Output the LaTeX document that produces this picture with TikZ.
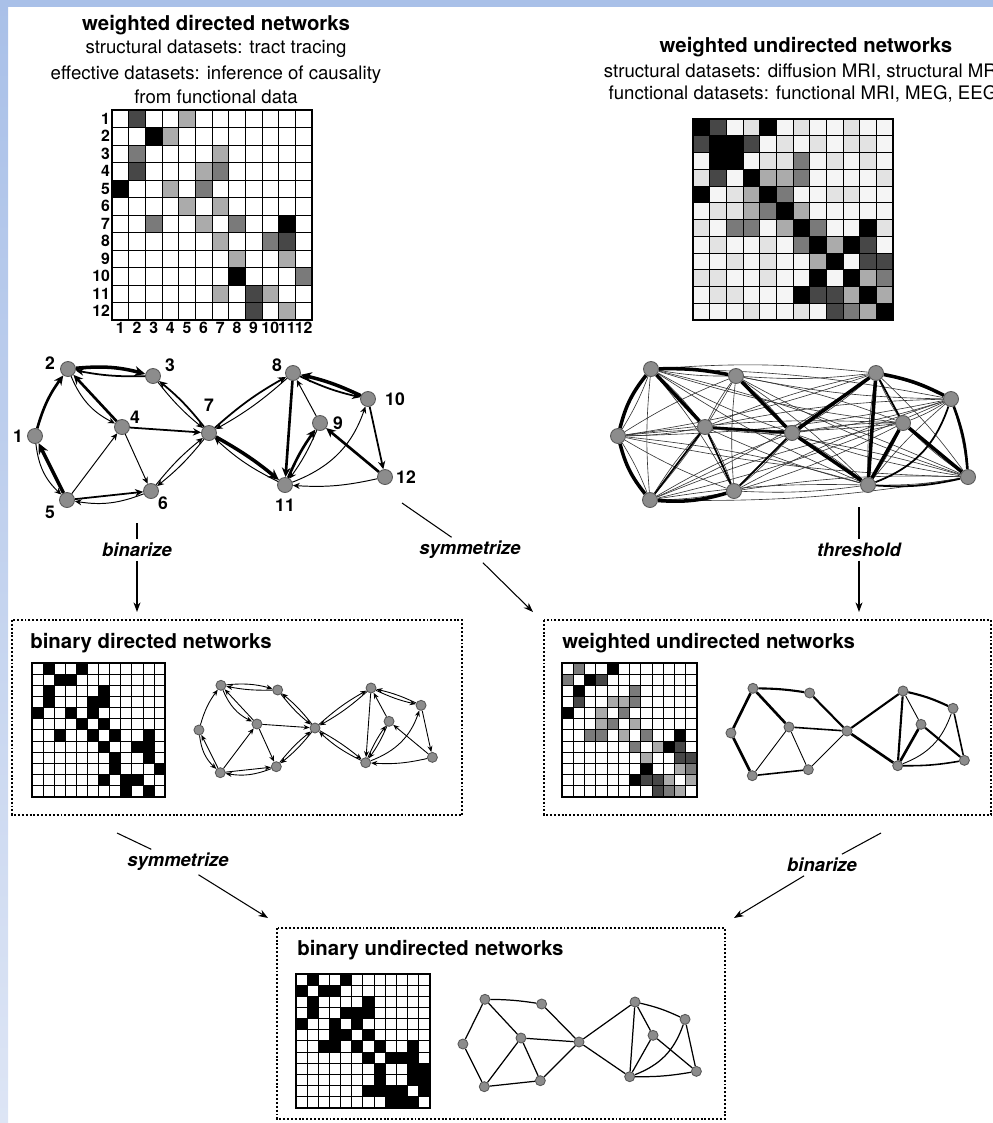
\documentclass[tikz,border=0pt]{standalone}
\usepackage{fontspec}
\setmainfont{TeX Gyre Heros}
\usetikzlibrary{arrows.meta,backgrounds}

\definecolor{FrameClr}{RGB}{169,192,232}
\definecolor{FrameLow}{RGB}{221,229,245}
\colorlet{cello}{white}
\colorlet{cellw}{black!4}
\colorlet{celle}{black!11}
\colorlet{celll}{black!33}
\colorlet{cellm}{black!52}
\colorlet{celld}{black!72}
\colorlet{cellk}{black}

% node layout of the 12-node network: id/x/y/label dx/label dy (pixels)
\def\netlayout{1/35/436/-17/0, 2/68/369/-18/6, 3/153/376/17/11, 4/122/427/13/10,
  5/67/500/-17/-12, 6/151/491/12/-12, 7/209/433/0/28, 8/293/373/-16/8,
  9/320/423/18/0, 10/368/399/27/0, 11/285/485/0/-20, 12/385/477/21/0}
% directed links: source/target/bend/weight
\def\dirlist{1/2/10/d, 1/5/-20/l, 5/1/0/k, 2/3/10/k, 3/2/6/m, 2/4/-20/l, 4/2/0/d,
  3/7/-6/l, 7/3/-6/m, 4/6/0/l, 4/7/0/m, 5/4/0/l, 5/6/0/m, 6/5/15/l, 6/7/6/l,
  7/6/6/l, 7/8/6/m, 8/7/6/l, 7/11/5/k, 11/7/8/l, 8/10/-6/m, 10/8/-6/k, 8/11/0/d,
  9/8/0/l, 9/11/6/l, 11/9/6/d, 10/12/0/m, 11/10/-25/l, 12/9/0/d, 12/11/8/l}
% undirected links: i/j/bend/weight
\def\undlist{1/2/0/k, 1/5/0/k, 2/3/4/d, 2/4/0/k, 3/7/0/d, 4/5/0/l, 4/6/0/l,
  4/7/0/m, 5/6/0/m, 6/7/0/l, 7/8/0/d, 7/11/0/k, 8/9/0/l, 8/10/6/d, 8/11/0/d,
  9/11/0/k, 9/12/0/d, 10/12/0/m, 11/10/-25/l, 12/11/5/m}
\def\biglist{1/2/12/k, 1/5/-12/k, 2/3/6/k, 2/4/0/k, 3/7/0/k, 4/5/0/m, 4/6/0/m,
  4/7/0/d, 5/6/-10/k, 6/7/0/m, 7/8/0/k, 7/11/0/k, 8/9/0/m, 8/10/8/k, 8/11/0/k,
  9/11/0/k, 9/12/0/k, 10/12/8/d, 11/10/-25/m, 11/12/-8/m}

% 12x12 matrix of shaded cells, one unit per cell
\newcommand\cellgrid[1]{%
  \foreach \rowvals [count=\ri] in {#1} {
    \foreach \v [count=\ci] in \rowvals
      \fill[cell\v] (\ci-1,1-\ri) rectangle (\ci,-\ri);
  }
  \draw[gridln] (0,0) grid[step=1] (12,-12);
  \draw[gridbd] (0,0) rectangle (12,-12);
}
% place the 12 nodes: prefix, style, centre x, centre y, scale
\newcommand\placenet[5]{%
  \foreach \n/\px/\py/\lx/\ly in \netlayout
    \node[#2] (#1\n) at ({#3+#5*(\px-209)},{-(#4)-#5*(\py-433)}) {};
}

\begin{document}
\begin{tikzpicture}[x=0.02cm, y=0.02cm,
  ttl/.style={font=\bfseries\fontsize{11.6}{14}\selectfont, inner sep=0pt},
  sub/.style={font=\fontsize{10.6}{13}\selectfont, inner sep=0pt},
  numl/.style={font=\bfseries\fontsize{9}{10}\selectfont, inner sep=1pt},
  netl/.style={font=\bfseries\fontsize{10}{12}\selectfont, inner sep=0pt},
  oplbl/.style={font=\bfseries\itshape\fontsize{10.5}{12}\selectfont, inner sep=2pt},
  gridln/.style={line width=.5pt},
  gridbd/.style={line width=.9pt},
  dot/.style={circle, fill=black!45, draw=black!65, line width=.5pt, inner sep=0pt, minimum size=.3cm},
  smalldot/.style={dot, minimum size=.2cm},
  dirarc/.style={-{Stealth[length=3pt 1.6, width=2.6pt 1.6]}},
  edgek/.style={line width=2pt}, edged/.style={line width=1.5pt},
  edgem/.style={line width=1pt}, edgel/.style={line width=.55pt},
  bdline/.style={line width=.5pt, -{Stealth[length=3.5pt, width=2.8pt]}},
  sedgek/.style={line width=1.5pt}, sedged/.style={line width=1.2pt},
  sedgem/.style={line width=.9pt}, sedgel/.style={line width=.5pt},
  buline/.style={line width=.7pt},
  bigk/.style={line width=2pt}, bigd/.style={line width=1.5pt}, bigm/.style={line width=1pt},
  hairln/.style={line width=.35pt, black!80},
  dotbox/.style={line width=1.1pt, dash pattern=on 1.1pt off 1.1pt},
  opline/.style={line width=.6pt},
  oparrow/.style={line width=.6pt, -{Stealth[length=5.5pt, width=4pt]}}]

\useasboundingbox (0,0) rectangle (993,-1123);
\fill[FrameClr] (0,0) rectangle (993,-7);
\shade[top color=FrameClr, bottom color=FrameLow] (0,0) rectangle (8,-1123);

% headings
\node[ttl, anchor=base] (wdtitle) at (216,-30) {weighted directed networks};
\node[sub, anchor=base] (wdsub1) at (216,-53) {structural datasets: tract tracing};
\node[sub, anchor=base] (wdsub2) at (216,-79) {effective datasets: inference of causality};
\node[sub, anchor=base] (wdsub3) at (216,-103) {from functional data};
\node[ttl, anchor=base] (wutitle) at (806,-52) {weighted undirected networks};
\node[sub, anchor=base] (wusub1) at (803,-77) {structural datasets: diffusion MRI, structural MRI};
\node[sub, anchor=base] (wusub2) at (803,-99) {functional datasets: functional MRI, MEG, EEG};

% weighted directed matrix
\begin{scope}[shift={(112,-110)}, x=.3333cm, y=.35cm]
\cellgrid{{o,d,o,o,l,o,o,o,o,o,o,o},{o,o,k,l,o,o,o,o,o,o,o,o},
  {o,m,o,o,o,o,l,o,o,o,o,o},{o,d,o,o,o,l,m,o,o,o,o,o},
  {k,o,o,l,o,m,o,o,o,o,o,o},{o,o,o,o,l,o,l,o,o,o,o,o},
  {o,o,m,o,o,l,o,m,o,o,k,o},{o,o,o,o,o,o,l,o,o,m,d,o},
  {o,o,o,o,o,o,o,l,o,o,l,o},{o,o,o,o,o,o,o,k,o,o,o,m},
  {o,o,o,o,o,o,l,o,d,l,o,o},{o,o,o,o,o,o,o,o,d,o,l,o}}
\foreach \k in {1,...,12} {
  \node[numl, anchor=east] (rowl\k) at (0,{0.5-\k}) {\k};
  \node[numl, anchor=north] (coll\k) at ({\k-0.5},-12) {\k};
}
\end{scope}

% weighted undirected matrix
\begin{scope}[shift={(693,-119)}, x=.3333cm, y=.335cm]
\cellgrid{{k,d,w,e,k,w,e,w,w,e,w,w},{d,k,k,d,w,e,w,e,w,e,e,w},
  {w,k,k,w,e,e,m,w,e,w,e,w},{e,d,w,k,l,l,m,w,w,w,w,e},
  {k,w,e,l,k,m,w,w,e,e,w,w},{w,e,e,l,m,k,l,w,w,w,w,w},
  {e,w,m,m,w,l,k,m,w,w,k,e},{w,e,w,w,e,w,m,k,l,k,d,w},
  {w,w,e,w,e,w,w,l,k,w,d,d},{e,e,w,w,e,w,w,k,w,k,l,m},
  {w,e,e,w,w,w,k,d,d,l,k,l},{w,w,w,e,w,w,e,w,d,m,l,k}}
\end{scope}

% weighted directed network
\placenet{wd}{dot}{209}{433}{1}
\foreach \n/\px/\py/\lx/\ly in \netlayout
  \node[netl] (wdl\n) at ([shift={(\lx,\ly)}]wd\n) {\n};
\foreach \src/\tgt/\bnd/\wt in \dirlist
  \draw[dirarc, edge\wt] (wd\src) to[bend left=\bnd] (wd\tgt);

% weighted undirected network, all pairs linked
\placenet{wu}{dot}{792}{433}{1}
\begin{scope}[on background layer]
\foreach \i in {1,...,11} {
  \pgfmathtruncatemacro\nexti{\i+1}
  \foreach \j in {\nexti,...,12} {
    \pgfmathtruncatemacro\arcb{mod(\i+\j,2)==0 ? 5 : -5}
    \draw[hairln] (wu\i) to[bend left=\arcb] (wu\j);
  }
}
\foreach \src/\tgt/\bnd/\wt in \biglist
  \draw[big\wt] (wu\src) to[bend left=\bnd] (wu\tgt);
\end{scope}

% operations from the top row
\coordinate (binAs) at (137,-523);
\node[oplbl] (binA) at (137,-550) {binarize};
\coordinate (binAe) at (137,-612);
\draw[opline] (binAs) -- (binA);
\draw[oparrow] (binA) -- (binAe);

\coordinate (symAs) at (402,-503);
\node[oplbl] (symA) at (470,-550) {symmetrize};
\coordinate (symAe) at (533,-612);
\draw[opline] (symAs) -- (symA);
\draw[oparrow] (symA) -- (symAe);

\coordinate (thrAs) at (859,-507);
\node[oplbl] (thrA) at (859,-550) {threshold};
\coordinate (thrAe) at (859,-612);
\draw[opline] (thrAs) -- (thrA);
\draw[oparrow] (thrA) -- (thrAe);

% binary directed networks
\draw[dotbox] (12,-620) rectangle (462,-815);
\node[ttl, anchor=base west] (bdtitle) at (30,-648) {binary directed networks};
\begin{scope}[shift={(32,-663)}, x=.222cm, y=.223cm]
\cellgrid{{o,k,o,o,k,o,o,o,o,o,o,o},{o,o,k,k,o,o,o,o,o,o,o,o},
  {o,k,o,o,o,o,k,o,o,o,o,o},{o,k,o,o,o,k,k,o,o,o,o,o},
  {k,o,o,k,o,k,o,o,o,o,o,o},{o,o,o,o,k,o,k,o,o,o,o,o},
  {o,o,k,o,o,k,o,k,o,o,k,o},{o,o,o,o,o,o,k,o,o,k,k,o},
  {o,o,o,o,o,o,o,k,o,o,k,o},{o,o,o,o,o,o,o,k,o,o,o,k},
  {o,o,o,o,o,o,k,o,k,k,o,o},{o,o,o,o,o,o,o,o,k,o,k,o}}
\end{scope}
\placenet{bd}{smalldot}{315}{728}{.667}
\foreach \src/\tgt/\bnd/\wt in \dirlist
  \draw[bdline] (bd\src) to[bend left=\bnd] (bd\tgt);

% weighted undirected networks
\draw[dotbox] (544,-620) rectangle (991,-815);
\node[ttl, anchor=base west] (sutitle) at (562,-648) {weighted undirected networks};
\begin{scope}[shift={(562,-663)}, x=.225cm, y=.223cm]
\cellgrid{{o,m,o,o,k,o,o,o,o,o,o,o},{m,o,k,d,o,o,o,o,o,o,o,o},
  {o,k,o,o,o,o,m,o,o,o,o,o},{o,d,o,o,l,l,m,o,o,o,o,o},
  {k,o,o,l,o,m,o,o,o,o,o,o},{o,o,o,l,m,o,l,o,o,o,o,o},
  {o,o,m,m,o,l,o,m,o,o,k,o},{o,o,o,o,o,o,m,o,l,k,d,o},
  {o,o,o,o,o,o,o,l,o,o,d,d},{o,o,o,o,o,o,o,k,o,o,l,m},
  {o,o,o,o,o,o,k,d,d,l,o,l},{o,o,o,o,o,o,o,o,d,m,l,o}}
\end{scope}
\placenet{su}{smalldot}{847}{731}{.667}
\foreach \src/\tgt/\bnd/\wt in \undlist
  \draw[sedge\wt] (su\src) to[bend left=\bnd] (su\tgt);

% operations to the bottom row
\coordinate (symBs) at (117,-833);
\node[oplbl] (symB) at (178,-862) {symmetrize};
\coordinate (symBe) at (268,-918);
\draw[opline] (symBs) -- (symB);
\draw[oparrow] (symB) -- (symBe);

\coordinate (binBs) at (881,-833);
\node[oplbl] (binB) at (822,-865) {binarize};
\coordinate (binBe) at (734,-918);
\draw[opline] (binBs) -- (binB);
\draw[oparrow] (binB) -- (binBe);

% binary undirected networks
\draw[dotbox] (277,-928) rectangle (725,-1119);
\node[ttl, anchor=base west] (butitle) at (297,-955) {binary undirected networks};
\begin{scope}[shift={(296,-974)}, x=.223cm, y=.223cm]
\cellgrid{{o,k,o,o,k,o,o,o,o,o,o,o},{k,o,k,k,o,o,o,o,o,o,o,o},
  {o,k,o,o,o,o,k,o,o,o,o,o},{o,k,o,o,k,k,k,o,o,o,o,o},
  {k,o,o,k,o,k,o,o,o,o,o,o},{o,o,o,k,k,o,k,o,o,o,o,o},
  {o,o,k,k,o,k,o,k,o,o,k,o},{o,o,o,o,o,o,k,o,k,k,k,o},
  {o,o,o,o,o,o,o,k,o,o,k,k},{o,o,o,o,o,o,o,k,o,o,k,k},
  {o,o,o,o,o,o,k,k,k,k,o,k},{o,o,o,o,o,o,o,o,k,k,k,o}}
\end{scope}
\placenet{bu}{smalldot}{579}{1042}{.667}
\foreach \src/\tgt/\bnd/\wt in \undlist
  \draw[buline] (bu\src) to[bend left=\bnd] (bu\tgt);

\end{tikzpicture}
\end{document}
